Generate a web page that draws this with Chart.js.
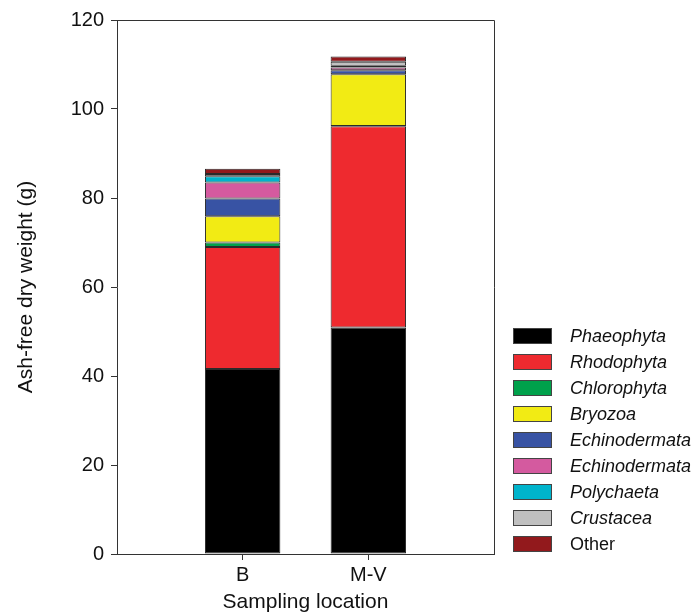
<!DOCTYPE html>
<html>
<head>
<meta charset="utf-8">
<script src="https://cdn.jsdelivr.net/npm/chart.js@4"></script>
<style>
  html, body { margin: 0; padding: 0; background: #fff; }
  #wrap { width: 699px; height: 615px; }
</style>
</head>
<body>
<div id="wrap"><canvas id="grafico" width="699" height="615"></canvas></div>
<script>
// Locais de amostragem
const locais = ['B', 'M-V'];

// Grupos (ordem de empilhamento, de baixo para cima)
const grupos = ['Phaeophyta', 'Rhodophyta', 'Chlorophyta', 'Bryozoa', 'Echinodermata',
    'Echinodermata', 'Polychaeta', 'Crustacea', 'Other'];

// Peso seco livre de cinzas (g) por grupo, [B, M-V]
const phaeophyta = [41.6, 50.9];
const rhodophyta = [27.4, 45.2];
const chlorophyta = [1.0, 0.1];
const bryozoa = [5.9, 11.6];
const echinodermata1 = [4.0, 0.9];
const echinodermata2 = [3.6, 0.6];
const polychaeta = [1.4, 0.4];
const crustacea = [0.5, 0.9];
const outros = [1.2, 1.2];

const valoresY = [0, 20, 40, 60, 80, 100, 120];

const cores = ['#000000', '#ee2a2f', '#00a14b', '#f2eb14', '#3853a4',
    '#d45a9f', '#00b4cc', '#c0c0c0', '#92191c'];
const series = [phaeophyta, rhodophyta, chlorophyta, bryozoa, echinodermata1,
    echinodermata2, polychaeta, crustacea, outros];

// Eixo com uma posição vazia em cada ponta
const rotulos = ['', ...locais, ''];

const fonte = '"Liberation Sans", Arial, sans-serif';

const datasets = series.map((valores, i) => ({
    label: grupos[i],
    data: [null, ...valores, null],
    backgroundColor: cores[i],
    borderColor: '#2a2a2a',
    borderWidth: 1,
    borderSkipped: false,
    categoryPercentage: 1,
    barPercentage: 0.6
}));

// Moldura da área do gráfico e legenda à direita
const molduraLegenda = {
    id: 'molduraLegenda',
    afterDraw(chart) {
        const { ctx, chartArea: a } = chart;
        ctx.save();
        ctx.strokeStyle = '#333333';
        ctx.lineWidth = 1;
        ctx.beginPath();
        ctx.moveTo(a.left, a.top + 0.5);
        ctx.lineTo(a.right + 0.5, a.top + 0.5);
        ctx.lineTo(a.right + 0.5, a.bottom);
        ctx.stroke();

        const x0 = 513, y0 = 328, passo = 26;
        grupos.forEach((nome, i) => {
            const y = y0 + i * passo;
            ctx.fillStyle = cores[i];
            ctx.fillRect(x0, y, 39, 16);
            ctx.strokeStyle = '#444444';
            ctx.strokeRect(x0 + 0.5, y + 0.5, 38, 15);
            ctx.fillStyle = '#111111';
            ctx.font = (nome === 'Other' ? '' : 'italic ') + '18px ' + fonte;
            ctx.textBaseline = 'middle';
            ctx.textAlign = 'left';
            ctx.fillText(nome, 570, y + 9);
        });
        ctx.restore();
    }
};

new Chart(document.getElementById('grafico'), {
    type: 'bar',
    data: { labels: rotulos, datasets: datasets },
    options: {
        responsive: false,
        animation: false,
        layout: { padding: { top: 20, right: 205, left: 0, bottom: 0 } },
        plugins: {
            legend: { display: false },
            tooltip: { enabled: false }
        },
        scales: {
            x: {
                stacked: true,
                offset: false,
                grid: {
                    offset: false,
                    drawOnChartArea: false,
                    drawTicks: true,
                    tickLength: 6,
                    color: c => (c.tick && c.tick.label) ? '#333333' : 'rgba(0,0,0,0)'
                },
                border: { color: '#333333', width: 1 },
                ticks: {
                    color: '#111111',
                    font: { family: fonte, size: 20 },
                    padding: 3,
                    maxRotation: 0,
                    autoSkip: false
                },
                title: {
                    display: true,
                    text: 'Sampling location',
                    color: '#111111',
                    font: { family: fonte, size: 21 },
                    padding: { top: 0, bottom: 0 }
                },
                afterFit: s => { s.height = 61; }
            },
            y: {
                stacked: true,
                min: 0,
                max: 120,
                afterBuildTicks: s => { s.ticks = valoresY.map(v => ({ value: v })); },
                grid: {
                    drawOnChartArea: false,
                    drawTicks: true,
                    tickLength: 6,
                    color: '#333333'
                },
                border: { color: '#333333', width: 1 },
                ticks: {
                    color: '#111111',
                    font: { family: fonte, size: 20 },
                    padding: 7
                },
                title: {
                    display: true,
                    text: 'Ash-free dry weight (g)',
                    color: '#111111',
                    font: { family: fonte, size: 21 },
                    padding: { top: 14, bottom: 0 }
                },
                afterFit: s => { s.width = 117; }
            }
        }
    },
    plugins: [molduraLegenda]
});
</script>
</body>
</html>
